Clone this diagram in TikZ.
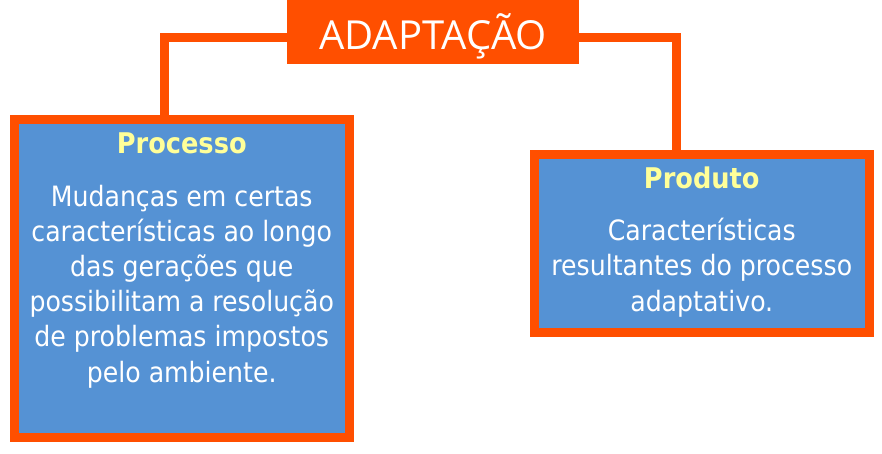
\documentclass[tikz,border=0pt]{standalone}
\usepackage{fontspec}
\usetikzlibrary{backgrounds}
\setmainfont{DejaVu Sans Condensed}
\newfontfamily\titlefont{Open Sans}
\definecolor{orng}{HTML}{FF4F00}
\definecolor{bluebox}{HTML}{5592D4}
\definecolor{yel}{HTML}{FFFF99}
\begin{document}
\begin{tikzpicture}[x=1pt,y=-1pt,
  conn/.style={draw=orng,line width=9pt},
  boxstyle/.style={draw=orng,fill=bluebox,line width=9pt,rectangle,inner sep=0pt},
  headtxt/.style={anchor=base,text=yel,font=\fontsize{28.5}{32}\selectfont\bfseries,inner sep=0pt},
  bodytxt/.style={anchor=base,text=white,font=\fontsize{28}{35.2}\selectfont,align=center,inner sep=0pt}]
\useasboundingbox (0,0) rectangle (882,453);
\node[fill=orng,minimum width=292pt,minimum height=64pt,inner sep=0pt] (title) at (433,32) {};
\node[anchor=base,text=white,font=\titlefont\fontsize{40}{44}\selectfont,inner sep=0pt] (ttxt) at (433,49) {ADAPTAÇÃO};
\node[boxstyle,minimum width=334.5pt,minimum height=318pt] (proc) at (181.75,278.5) {};
\node[boxstyle,minimum width=334.5pt,minimum height=178pt] (prod) at (701.75,243.5) {};
\coordinate (lc) at (164,37);
\coordinate (rc) at (676,37);
\begin{scope}[on background layer]
\draw[conn] (title.west |- lc) -- (lc) -- (lc |- proc.north);
\draw[conn] (title.east |- rc) -- (rc) -- (rc |- prod.north);
\end{scope}
% texts
\node[headtxt] (ph) at (181.75,153) {Processo};
\node[bodytxt] (pb) at (181.75,382) {Mudanças em certas\\características ao longo\\das gerações que\\possibilitam a resolução\\de problemas impostos\\pelo ambiente.};
\node[headtxt] (dh) at (701.75,188) {Produto};
\node[bodytxt] (db) at (701.75,311) {Características\\resultantes do processo\\adaptativo.};
\end{tikzpicture}
\end{document}
